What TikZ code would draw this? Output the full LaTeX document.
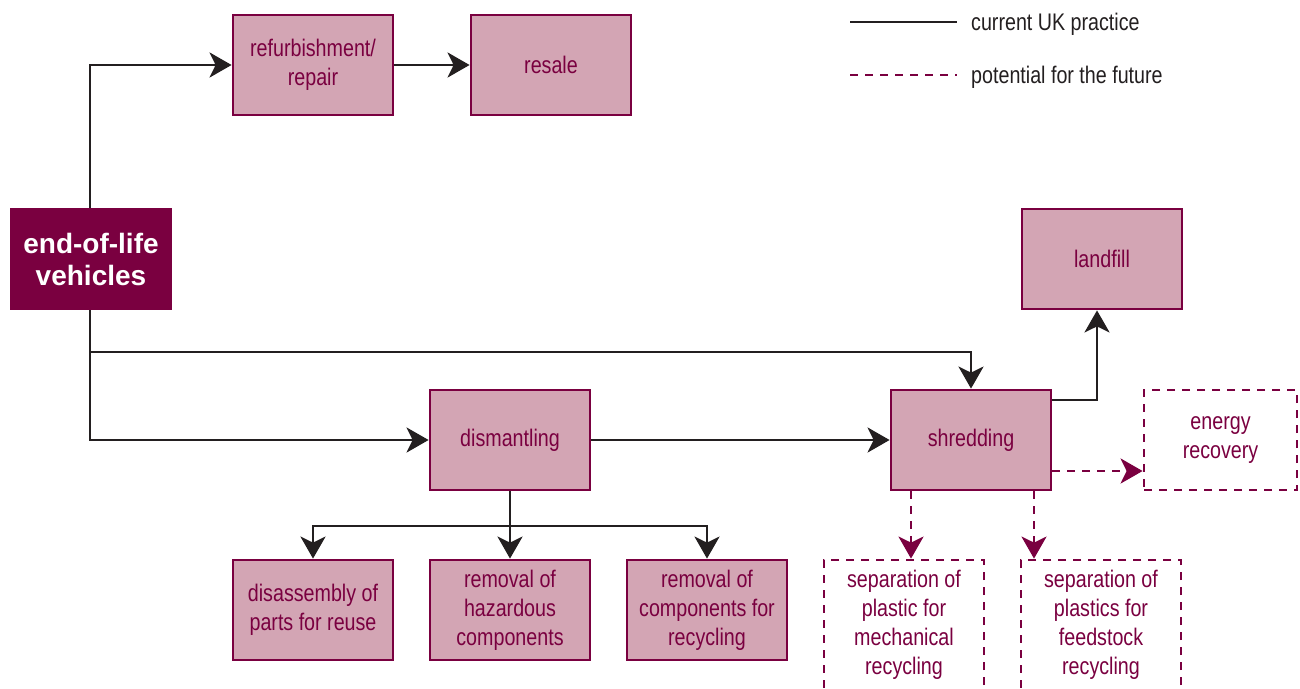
\documentclass[tikz,border=0pt]{standalone}
\usepackage{fontspec}
\setmainfont{Liberation Sans}[FakeStretch=0.82]
\newfontfamily\headfont{Liberation Sans}
\usetikzlibrary{arrows.meta}
\definecolor{maroon}{HTML}{7A0040}
\definecolor{rose}{HTML}{D3A5B4}
\definecolor{ink}{HTML}{231F20}
\tikzset{
  box/.style={draw=maroon, fill=rose, line width=2.8pt, text=maroon,
    minimum width=160pt, minimum height=100pt, align=center,
    font=\fontsize{24}{29}\selectfont, inner sep=0pt},
  futurebox/.style={draw=maroon, line width=2.8pt, dash pattern=on 8pt off 7pt,
    text=maroon, minimum width=160pt, align=center,
    font=\fontsize{24}{29}\selectfont, inner sep=0pt},
  mainbox/.style={fill=maroon, text=white, minimum width=162pt, minimum height=102pt,
    align=center, font=\headfont\fontsize{28}{32}\selectfont\bfseries, inner sep=0pt},
  tip/.style={-{Stealth[length=22pt, width=25pt, inset=6pt]}},
  flow/.style={draw=ink, line width=2.8pt, tip},
  future/.style={draw=maroon, line width=2.8pt, dash pattern=on 8pt off 7pt,
    -{Stealth[length=22pt, width=25pt, inset=6pt, fill=maroon]}},
  legendtext/.style={text=ink, anchor=west, font=\fontsize{24}{29}\selectfont, inner sep=0pt}
}
\begin{document}
\begin{tikzpicture}[x=1pt, y=-1pt]
  \useasboundingbox (0,0) rectangle (1300,688);
  \clip (0,0) rectangle (1300,688);

  % boxes
  \node[mainbox] (elv) at (91,259) {end-of-life\\vehicles};
  \node[box] (refurb) at (313,65) {refurbishment/\\repair};
  \node[box] (resale) at (551,65) {resale};
  \node[box] (landfill) at (1102,259) {landfill};
  \node[box] (dismant) at (510,440) {dismantling};
  \node[box] (shred) at (971,440) {shredding};
  \node[futurebox, minimum width=153pt, minimum height=100pt] (energy) at (1220.5,440) {energy\\recovery};
  \node[box] (reuse) at (313,610) {disassembly of\\parts for reuse};
  \node[box] (hazard) at (510,610) {removal of\\hazardous\\components};
  \node[box] (recyc) at (707,610) {removal of\\components for\\recycling};
  \node[futurebox, minimum height=130pt] (mech) at (904,625) {separation of\\plastic for\\mechanical\\recycling};
  \node[futurebox, minimum height=130pt] (feed) at (1101,625) {separation of\\plastics for\\feedstock\\recycling};

  % current practice flows
  \draw[flow] (elv.north -| 90,0) |- (refurb.west);
  \draw[flow] (refurb.east) -- (resale.west);
  \coordinate (split) at (90,352);
  \draw[flow] (elv.south -| 90,0) -- (split) -| (shred.north);
  \draw[flow] (split) |- (dismant.west);
  \draw[flow] (dismant.east) -- (shred.west);
  \coordinate (fork) at (510,526);
  \draw[draw=ink, line width=2.8pt] (dismant.south) -- (fork);
  \draw[flow] (fork) -| (reuse.north);
  \draw[flow] (fork) -- (hazard.north);
  \draw[flow] (fork) -| (recyc.north);
  \draw[flow] (shred.east |- 0,400) -| (landfill.south -| 1097,0);

  % potential future flows
  \draw[future] (shred.east |- 0,471) -- (energy.west |- 0,471);
  \draw[future] (shred.south -| 911,0) -- (mech.north -| 911,0);
  \draw[future] (shred.south -| 1034,0) -- (feed.north -| 1034,0);

  % legend
  \coordinate (l1a) at (850,22); \coordinate (l1b) at (957,22);
  \coordinate (l2a) at (850,75); \coordinate (l2b) at (957,75);
  \draw[draw=ink, line width=2.8pt] (l1a) -- (l1b);
  \draw[draw=maroon, line width=2.8pt, dash pattern=on 8pt off 7pt] (l2a) -- (l2b);
  \node[legendtext] (lg1) at (971,24) {current UK practice};
  \node[legendtext] (lg2) at (971,77) {potential for the future};
\end{tikzpicture}
\end{document}
